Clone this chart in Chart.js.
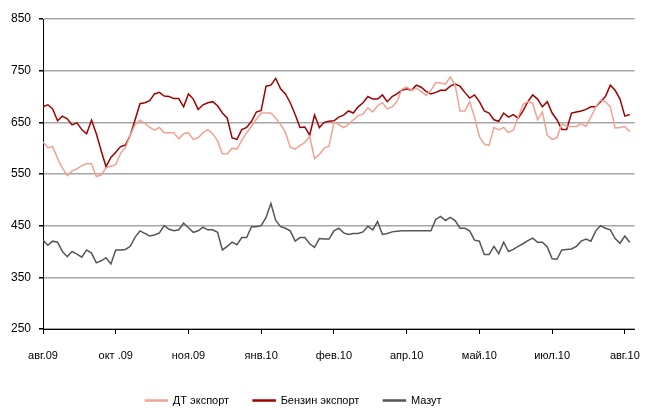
<!DOCTYPE html>
<html>
<head>
<meta charset="utf-8">
<script src="https://cdn.jsdelivr.net/npm/chart.js@4"></script>
<style>
  html, body { margin: 0; padding: 0; background: #fff; }
  #wrap { width: 655px; height: 410px; }
</style>
</head>
<body>
<div id="wrap"><canvas id="myChart" width="655" height="410"></canvas></div>
<script>
// tick labels, one every 15 points
let tickLabels = ['авг.09', 'окт .09', 'ноя.09', 'янв.10', 'фев.10', 'апр.10', 'май.10', 'июл.10', 'авг.10'];
let tickStep = 15;

// ДТ экспорт
let dtExport = [
  612, 601, 603, 580, 562, 547, 556, 560, 566, 570,
  570, 545, 548, 562, 565, 568, 590, 601, 625, 646,
  654, 648, 640, 635, 640, 630, 630, 630, 618, 628,
  630, 617, 620, 630, 636, 628, 614, 589, 589, 600,
  598, 615, 630, 642, 656, 668, 668, 668, 658, 646,
  630, 602, 598, 605, 611, 623, 580, 588, 600, 604,
  650, 646, 640, 646, 655, 663, 666, 678, 670, 682,
  688, 676, 680, 690, 714, 718, 712, 716, 710, 702,
  712, 727, 726, 724, 738, 722, 672, 672, 690, 660,
  622, 608, 605, 640, 636, 640, 630, 635, 660, 685,
  690, 687, 655, 670, 625, 617, 620, 648, 642, 642,
  642, 647, 642, 660, 680, 693, 690, 680, 639, 640,
  642, 632
];

// Бензин экспорт
let benzinExport = [
  680, 684, 676, 653, 662, 657, 645, 649, 636, 628,
  654, 628, 595, 564, 582, 592, 603, 606, 625, 655,
  686, 688, 692, 705, 708, 701, 700, 696, 696, 680,
  705, 695, 675, 684, 688, 690, 682, 668, 658, 620,
  617, 636, 640, 652, 670, 673, 720, 722, 735, 715,
  705, 688, 665, 640, 641, 625, 664, 640, 650, 652,
  653, 660, 664, 672, 668, 680, 688, 700, 695, 695,
  703, 690, 700, 705, 712, 715, 712, 722, 718, 710,
  705, 708, 712, 712, 720, 724, 720, 708, 697, 703,
  690, 672, 668, 655, 652, 668, 660, 665, 658, 672,
  690, 703, 695, 680, 690, 668, 655, 636, 636, 668,
  670, 672, 675, 680, 680, 690, 700, 722, 712, 695,
  662, 665
];

// Мазут
let mazut = [
  422, 412, 420, 418, 400, 390, 400, 395, 389, 403,
  397, 378, 382, 388, 376, 403, 403, 404, 410, 428,
  440, 435, 430, 432, 436, 450, 443, 440, 442, 455,
  446, 437, 440, 447, 442, 442, 437, 403, 410, 418,
  413, 427, 427, 448, 448, 450, 466, 493, 460, 448,
  445, 440, 420, 427, 427, 415, 408, 425, 424, 424,
  440, 445, 436, 433, 435, 435, 438, 449, 442, 458,
  433, 435, 438, 439, 440, 440, 440, 440, 440, 440,
  440, 462, 468, 460, 466, 460, 445, 445, 440, 422,
  420, 394, 394, 410, 396, 418, 400, 404, 410, 415,
  421, 426, 418, 418, 409, 386, 385, 403, 404, 405,
  410, 420, 424, 420, 440, 450, 445, 442, 425, 416,
  430, 418
];

function toPoints(arr) {
  return arr.map(function(v, i) { return { x: i, y: v }; });
}

// legend sits a bit left of centre in the original
let shiftLegend = {
  id: 'shiftLegend',
  afterLayout: function(chart) {
    if (chart.legend) {
      chart.legend.left -= 28;
      chart.legend.right -= 28;
    }
  }
};

document.addEventListener("DOMContentLoaded", function() {
  Chart.defaults.font.family = "'Liberation Sans', Arial, sans-serif";
  Chart.defaults.color = '#000';

  let ctx = document.getElementById('myChart').getContext('2d');
  let myChart = new Chart(ctx, {
    type: 'line',
    data: {
      datasets: [{
        label: 'ДТ экспорт',
        data: toPoints(dtExport),
        borderColor: '#f2a292',
        backgroundColor: '#f2a292',
        borderWidth: 1.5,
        pointRadius: 0,
        tension: 0
      }, {
        label: 'Бензин экспорт',
        data: toPoints(benzinExport),
        borderColor: '#a00000',
        backgroundColor: '#a00000',
        borderWidth: 1.5,
        pointRadius: 0,
        tension: 0
      }, {
        label: 'Мазут',
        data: toPoints(mazut),
        borderColor: '#555555',
        backgroundColor: '#555555',
        borderWidth: 1.5,
        pointRadius: 0,
        tension: 0
      }]
    },
    options: {
      responsive: false,
      animation: false,
      layout: { padding: { top: 19, right: 12, left: 0, bottom: 0 } },
      plugins: {
        tooltip: { enabled: false },
        legend: {
          position: 'bottom',
          maxHeight: 39,
          labels: {
            boxWidth: 22,
            boxHeight: 1,
            padding: 24,
            font: { size: 11 }
          }
        }
      },
      scales: {
        x: {
          type: 'linear',
          min: 0,
          max: 122,
          afterBuildTicks: function(axis) {
            axis.ticks = tickLabels.map(function(t, i) { return { value: i * tickStep }; });
          },
          ticks: {
            autoSkip: false,
            maxRotation: 0,
            padding: 15,
            font: { size: 11 },
            callback: function(v) { return tickLabels[v / tickStep]; }
          },
          grid: {
            drawOnChartArea: false,
            drawTicks: true,
            tickLength: 5,
            tickColor: '#000'
          },
          border: { color: '#000', width: 1 },
          afterFit: function(axis) { axis.height = 42; }
        },
        y: {
          min: 250,
          max: 850,
          ticks: {
            stepSize: 100,
            padding: 8,
            font: { size: 12 }
          },
          grid: {
            color: '#a6a6a6',
            lineWidth: 1.5,
            tickLength: 4,
            tickColor: '#000'
          },
          border: { color: '#000', width: 1 },
          afterFit: function(axis) { axis.width = 43; }
        }
      }
    },
    plugins: [shiftLegend]
  });
});
</script>
</body>
</html>
